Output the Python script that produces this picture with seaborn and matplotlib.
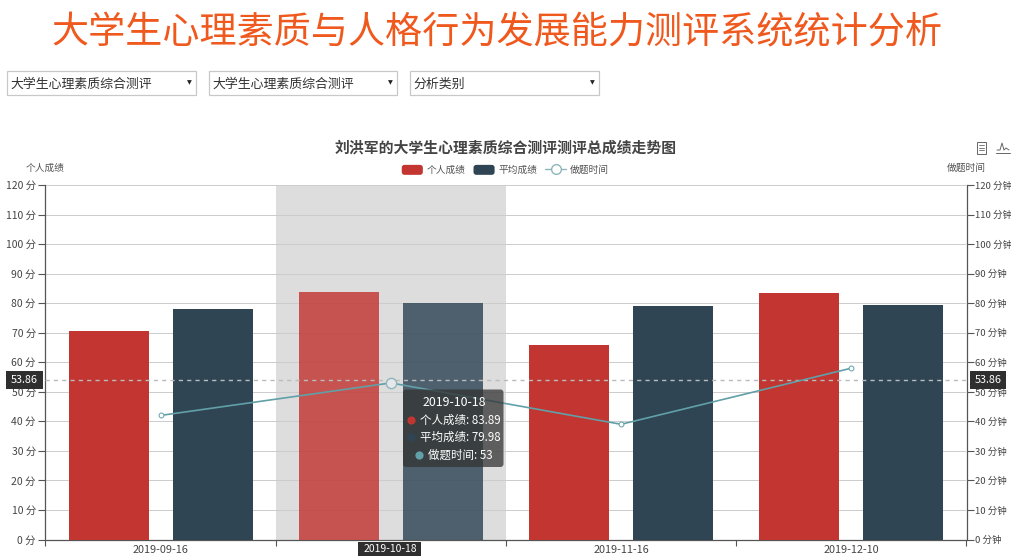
import matplotlib
matplotlib.use('Agg')
import matplotlib.pyplot as plt
from matplotlib.legend_handler import HandlerPatch
from matplotlib.lines import Line2D
from matplotlib.patches import FancyBboxPatch, Patch, Rectangle
import numpy as np
import pandas as pd
import seaborn as sns

# Data
dates = ['2019-09-16', '2019-10-18', '2019-11-16', '2019-12-10']
personal = [70.5, 83.89, 65.8, 83.6]
average = [78.0, 79.98, 79.0, 79.5]
minutes = [42, 53, 39, 58]
yticks = list(range(0, 121, 10))
selects = ['大学生心理素质综合测评', '大学生心理素质综合测评', '分析类别']
cross_value = 53.86
active = 1

RED = '#c23531'
NAVY = '#2f4554'
TEAL = '#61a0a8'
W, H = 1012, 556


class RoundHandler(HandlerPatch):
    # rounded legend swatches
    def create_artists(self, legend, orig_handle, xd, yd, width, height, fontsize, trans):
        p = FancyBboxPatch((-xd, -yd), width, height, boxstyle='round,pad=0,rounding_size=2',
                           fc=orig_handle.get_facecolor(), ec='none', transform=trans)
        return [p]


sns.set_theme(style='white')
plt.rcParams['font.family'] = ['Noto Sans CJK SC', 'DejaVu Sans']
plt.rcParams['axes.unicode_minus'] = False

fig = plt.figure(figsize=(W / 100, H / 100), dpi=100, facecolor='white')
ax = fig.add_axes([45.5 / W, 1 - 539.5 / H, 921 / W, 354.5 / H])

# Bars
df = pd.DataFrame({'date': dates * 2,
                   'value': personal + average,
                   'series': ['个人成绩'] * 4 + ['平均成绩'] * 4})
ax.axvspan(active - 0.5, active + 0.5, color='#dddddd', lw=0, zorder=0)
sns.barplot(data=df, x='date', y='value', hue='series', order=dates,
            palette=[RED, NAVY], width=0.903, gap=0.23, saturation=1,
            linewidth=0, legend=False, ax=ax, zorder=3)
for c in ax.containers:
    c[active].set_alpha(0.82)

ax.set_xlim(-0.5, 3.5)
ax.set_ylim(0, 120)
ax.set_yticks(yticks)
ax.set_yticklabels([f'{v} 分' for v in yticks])
ax.set_xlabel('')
ax.set_ylabel('')
ax.set_xticks(range(4))
ax.set_xticklabels(dates)
ax.set_xticks(np.arange(-0.5, 4), minor=True)
ax.tick_params(axis='x', which='major', length=0, pad=4, labelsize=7.8, colors='#444444')
ax.tick_params(axis='x', which='minor', length=4, width=0.8, color='#555555', bottom=True)
ax.tick_params(axis='y', length=5, width=0.8, pad=2, labelsize=7.5, color='#555555',
               labelcolor='#444444', left=True)
ax.grid(axis='y', color='#cccccc', lw=0.7)
ax.set_axisbelow(True)
ax.axhline(cross_value, color='#bbbbbb', lw=1, ls=(0, (3, 3)), zorder=4)
for side in ['left', 'bottom']:
    ax.spines[side].set_color('#555555')
    ax.spines[side].set_linewidth(0.9)
for side in ['top', 'right']:
    ax.spines[side].set_visible(False)

# Line on the minutes axis
ax2 = ax.twinx()
x_pos = np.arange(len(dates))
sns.lineplot(x=x_pos, y=minutes, color=TEAL, lw=1.2, marker='o', markersize=3.5,
             markerfacecolor='white', markeredgecolor=TEAL, markeredgewidth=0.7,
             errorbar=None, ax=ax2)
sns.scatterplot(x=[x_pos[active]], y=[minutes[active]], s=55, color='#e4e8ea',
                edgecolor='#8fb5bb', linewidth=1, ax=ax2, zorder=5)
ax2.set_ylim(0, 120)
ax2.set_yticks(yticks)
ax2.set_yticklabels([f'{v} 分钟' for v in yticks])
ax2.set_ylabel('')
ax2.grid(False)
ax2.tick_params(axis='y', length=5, width=0.8, pad=1, labelsize=6.8, color='#555555',
                labelcolor='#444444', right=True)
for side in ['left', 'top', 'bottom']:
    ax2.spines[side].set_visible(False)
ax2.spines['right'].set_color('#555555')
ax2.spines['right'].set_linewidth(0.9)

# Page furniture in pixel coordinates
ui = fig.add_axes([0, 0, 1, 1], facecolor='none')
ui.set_xlim(0, W)
ui.set_ylim(H, 0)
ui.axis('off')

ui.text(497, 33, '大学生心理素质与人格行为发展能力测评系统统计分析', color='#f0591e',
        fontsize=26.7, ha='center', va='center')

for (x0, x1), label in zip([(7, 196), (209, 397), (410, 599)], selects):
    ui.add_patch(Rectangle((x0, 71), x1 - x0, 24, fc='white', ec='#c8c8c8', lw=0.9))
    ui.text(x0 + 3.5, 84, label, fontsize=9.3, color='#333333', va='center')
    ui.text(x1 - 7, 82.5, '▼', fontsize=4.5, color='#222222', ha='center', va='center',
            family=['DejaVu Sans'])

ui.text(506, 148, '刘洪军的大学生心理素质综合测评测评总成绩走势图', fontsize=10.7,
        fontweight='bold', color='#444444', ha='center', va='center')
ui.text(45, 168, '个人成绩', fontsize=7, color='#555555', ha='center', va='center')
ui.text(966, 168, '做题时间', fontsize=7, color='#555555', ha='center', va='center')

# Legend
handles = [Patch(fc=RED), Patch(fc=NAVY),
           Line2D([], [], color='#8fb5bb', lw=1, marker='o', ms=7, mfc='white', mec='#8fb5bb')]
leg = ui.legend(handles, ['个人成绩', '平均成绩', '做题时间'], ncol=3, frameon=False,
                loc='center', bbox_to_anchor=(505.5 / W, 1 - 170 / H), fontsize=7,
                handlelength=2.17, handleheight=1.2, handletextpad=0.4, columnspacing=0.8,
                labelcolor='#555555', bbox_transform=fig.transFigure,
                handler_map={Patch: RoundHandler()})

# Toolbox icons
ui.add_patch(Rectangle((977, 141.5), 9, 12.5, fc='none', ec='#666666', lw=0.7))
for yy in (145, 147.5, 150):
    ui.plot([979, 984], [yy, yy], color='#666666', lw=0.6)
ui.plot([997, 1000, 1002, 1004, 1006, 1009], [150, 150, 143, 150, 148, 150], color='#666666', lw=0.7)
ui.plot([996, 1010], [153, 153], color='#666666', lw=0.7)

# Axis pointer labels
for x0, x1 in [(6, 43), (970, 1006)]:
    ui.add_patch(Rectangle((x0, 371), x1 - x0, 18, fc='#2f2f2f', ec='none', zorder=6))
    ui.text((x0 + x1) / 2, 380, f'{cross_value}', color='white', fontsize=7.8, ha='center',
            va='center', zorder=7)
ui.add_patch(Rectangle((358, 542), 63, 14, fc='#2f2f2f', ec='none', zorder=6))
ui.text(390.5, 549.5, dates[active], color='white', fontsize=7.5, ha='center', va='center', zorder=7)

# Tooltip
ui.add_patch(FancyBboxPatch((403, 389.5), 100.5, 77.5, boxstyle='round,pad=0,rounding_size=3',
                            fc='#333333', ec='none', alpha=0.75, zorder=6))
ui.text(454, 402, dates[active], color='white', fontsize=8.9, ha='center', va='center', zorder=7)
rows = [(RED, f'个人成绩: {personal[active]}', 420, 411),
        (NAVY, f'平均成绩: {average[active]}', 420, 411),
        (TEAL, f'做题时间: {minutes[active]}', 428, 419)]
for (colr, txt, tx, dx), yy in zip(rows, [420, 437, 455]):
    ui.scatter([dx], [yy], s=35, color=colr, zorder=7, linewidths=0)
    ui.text(tx, yy, txt, color='white', fontsize=8.3, va='center', zorder=7)

fig.savefig('out.png', dpi=100)
